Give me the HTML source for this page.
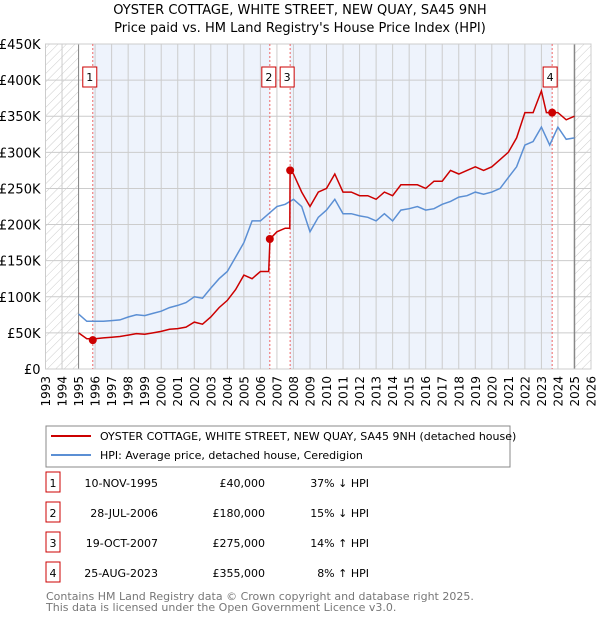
<!DOCTYPE html>
<html><head><meta charset="utf-8"><style>
body{margin:0;background:#fff;font-family:"Liberation Sans","DejaVu Sans",sans-serif;}
svg text{font-family:"DejaVu Sans","Liberation Sans",sans-serif;}
</style></head><body>
<svg id="c" width="600" height="620" xmlns="http://www.w3.org/2000/svg">
<defs><pattern id="h" width="6" height="6" patternUnits="userSpaceOnUse" patternTransform="rotate(45)"><line x1="0" y1="0" x2="0" y2="6" stroke="#ccc" stroke-width="1"/></pattern></defs>
<text x="300" y="14" text-anchor="middle" font-size="13">OYSTER COTTAGE, WHITE STREET, NEW QUAY, SA45 9NH</text>
<text x="300" y="32" text-anchor="middle" font-size="13">Price paid vs. HM Land Registry's House Price Index (HPI)</text>
<g id="plot"></g>
<rect x="46" y="426" width="464" height="41" fill="#fff" stroke="#888"/>
<line x1="51" y1="436" x2="91" y2="436" stroke="#cc0000" stroke-width="2"/>
<text x="100" y="440" font-size="11">OYSTER COTTAGE, WHITE STREET, NEW QUAY, SA45 9NH (detached house)</text>
<line x1="51" y1="455" x2="91" y2="455" stroke="#5b8fd4" stroke-width="2"/>
<text x="100" y="459" font-size="11">HPI: Average price, detached house, Ceredigion</text>
<g id="tbl" font-size="11"></g>
<text x="46" y="600" font-size="11" fill="#777">Contains HM Land Registry data © Crown copyright and database right 2025.</text>
<text x="46" y="611" font-size="11" fill="#777">This data is licensed under the Open Government Licence v3.0.</text>
</svg>
<script>
const yTicks=[0,50,100,150,200,250,300,350,400,450];
const yLabels=["£0","£50K","£100K","£150K","£200K","£250K","£300K","£350K","£400K","£450K"];
const xYears=[1993,1994,1995,1996,1997,1998,1999,2000,2001,2002,2003,2004,2005,2006,2007,2008,2009,2010,2011,2012,2013,2014,2015,2016,2017,2018,2019,2020,2021,2022,2023,2024,2025,2026];
const hpiT=[1995,1995.5,1996,1996.5,1997,1997.5,1998,1998.5,1999,1999.5,2000,2000.5,2001,2001.5,2002,2002.5,2003,2003.5,2004,2004.5,2005,2005.5,2006,2006.5,2007,2007.5,2008,2008.5,2009,2009.5,2010,2010.5,2011,2011.5,2012,2012.5,2013,2013.5,2014,2014.5,2015,2015.5,2016,2016.5,2017,2017.5,2018,2018.5,2019,2019.5,2020,2020.5,2021,2021.5,2022,2022.5,2023,2023.5,2024,2024.5,2025];
const hpiV=[76,66,66,66,67,68,72,75,74,77,80,85,88,92,100,98,112,125,135,155,175,205,205,215,225,228,235,225,190,210,220,235,215,215,212,210,205,215,205,220,222,225,220,222,228,232,238,240,245,242,245,250,265,280,310,315,335,310,335,318,320];
const priceT=[1995,1995.5,1996,1996.5,1997,1997.5,1998,1998.5,1999,1999.5,2000,2000.5,2001,2001.5,2002,2002.5,2003,2003.5,2004,2004.5,2005,2005.5,2006,2006.5,2006.58,2007,2007.5,2007.78,2007.8,2008,2008.5,2009,2009.5,2010,2010.5,2011,2011.5,2012,2012.5,2013,2013.5,2014,2014.5,2015,2015.5,2016,2016.5,2017,2017.5,2018,2018.5,2019,2019.5,2020,2020.5,2021,2021.5,2022,2022.5,2023,2023.3,2023.65,2024,2024.5,2025];
const priceV=[50,42,42,43,44,45,47,49,48,50,52,55,56,58,65,62,72,85,95,110,130,125,135,135,180,190,195,195,275,270,245,225,245,250,270,245,245,240,240,235,245,240,255,255,255,250,260,260,275,270,275,280,275,280,290,300,320,355,355,385,355,355,355,345,350];
const saleT=[1995.86,2006.57,2007.8,2023.65];
const saleV=[40,180,275,355];
const saleDates=["10-NOV-1995","28-JUL-2006","19-OCT-2007","25-AUG-2023"];
const salePrices=["£40,000","£180,000","£275,000","£355,000"];
const saleHpi=["37% ↓ HPI","15% ↓ HPI","14% ↑ HPI","8% ↑ HPI"];
const NS="http://www.w3.org/2000/svg";
const L=45.5,R=591,T=44,B=369;
const xs=y=>L+(y-1993)/(2026-1993)*(R-L);
const ys=v=>B-v/450*(B-T);
const g=document.getElementById('plot');
function mk(t,a,p){const e=document.createElementNS(NS,t);for(const k in a)e.setAttribute(k,a[k]);(p||g).appendChild(e);return e;}
let e;
e=mk('rect',{x:L,y:T,width:xs(1995)-L,height:B-T,fill:'url(#h)'});


e=mk('rect',{x:xs(2025),y:T,width:R-xs(2025),height:B-T,fill:'url(#h)'});


const shades=[[saleT[0],saleT[1]],[saleT[2],saleT[3]]];
shades.forEach(s=>{e=mk('rect',{x:xs(s[0]),y:T,width:xs(s[1])-xs(s[0]),height:B-T,fill:'#eef3fc'});

});
xYears.forEach(y=>{e=mk('line',{x1:xs(y),x2:xs(y),y1:T,y2:B,stroke:'#ccc','stroke-width':1});


e=mk('text',{x:0,y:0,'text-anchor':'end','font-size':12,transform:`translate(${xs(y)+4.5},376) rotate(-90)`});e.textContent=y;

});
yTicks.forEach((v,i)=>{e=mk('line',{x1:L,x2:R,y1:ys(v),y2:ys(v),stroke:'#ccc','stroke-width':1});


e=mk('text',{x:L-5,y:ys(v)+5,'text-anchor':'end','font-size':13});e.textContent=yLabels[i];

});
e=mk('line',{x1:xs(1995),x2:xs(1995),y1:T,y2:B,stroke:'#888'});


e=mk('line',{x1:xs(2025),x2:xs(2025),y1:T,y2:B,stroke:'#888','stroke-width':1.5});


e=mk('rect',{x:L,y:T,width:R-L,height:B-T,fill:'none',stroke:'#ccc'});


const boxOff=[10,8,10,9];
saleT.forEach((t,i)=>{e=mk('line',{x1:xs(t),x2:xs(t),y1:T,y2:B,stroke:'#e66','stroke-width':1,'stroke-dasharray':'2,2'});


e=mk('rect',{x:xs(t)-boxOff[i],y:67,width:14,height:20,fill:'#fff',stroke:'#cc0000'});


e=mk('text',{x:xs(t)-boxOff[i]+7,y:81,'text-anchor':'middle','font-size':11});e.textContent=i+1;

});
function path(T2,V,c,n){e=mk('path',{d:T2.map((t,i)=>(i?'L':'M')+xs(t).toFixed(1)+','+ys(V[i]).toFixed(1)).join(''),fill:'none',stroke:c,'stroke-width':1.5});

}
path(hpiT,hpiV,'#5b8fd4','hpi-line');
path(priceT,priceV,'#cc0000','price-line');
saleT.forEach((t,i)=>{e=mk('circle',{cx:xs(t),cy:ys(saleV[i]),r:4,fill:'#cc0000'});

});
const tb=document.getElementById('tbl');
const rowY=[483,513,543,573];
rowY.forEach((y,i)=>{e=mk('rect',{x:46,y:y-11,width:14,height:20,fill:'#fff',stroke:'#cc0000'},tb);


e=mk('text',{x:53,y:y+4,'text-anchor':'middle'},tb);e.textContent=i+1;


e=mk('text',{x:158,y:y+4,'text-anchor':'end'},tb);e.textContent=saleDates[i];


e=mk('text',{x:265,y:y+4,'text-anchor':'end'},tb);e.textContent=salePrices[i];


e=mk('text',{x:369,y:y+4,'text-anchor':'end'},tb);e.textContent=saleHpi[i];

});
</script>
</body></html>
